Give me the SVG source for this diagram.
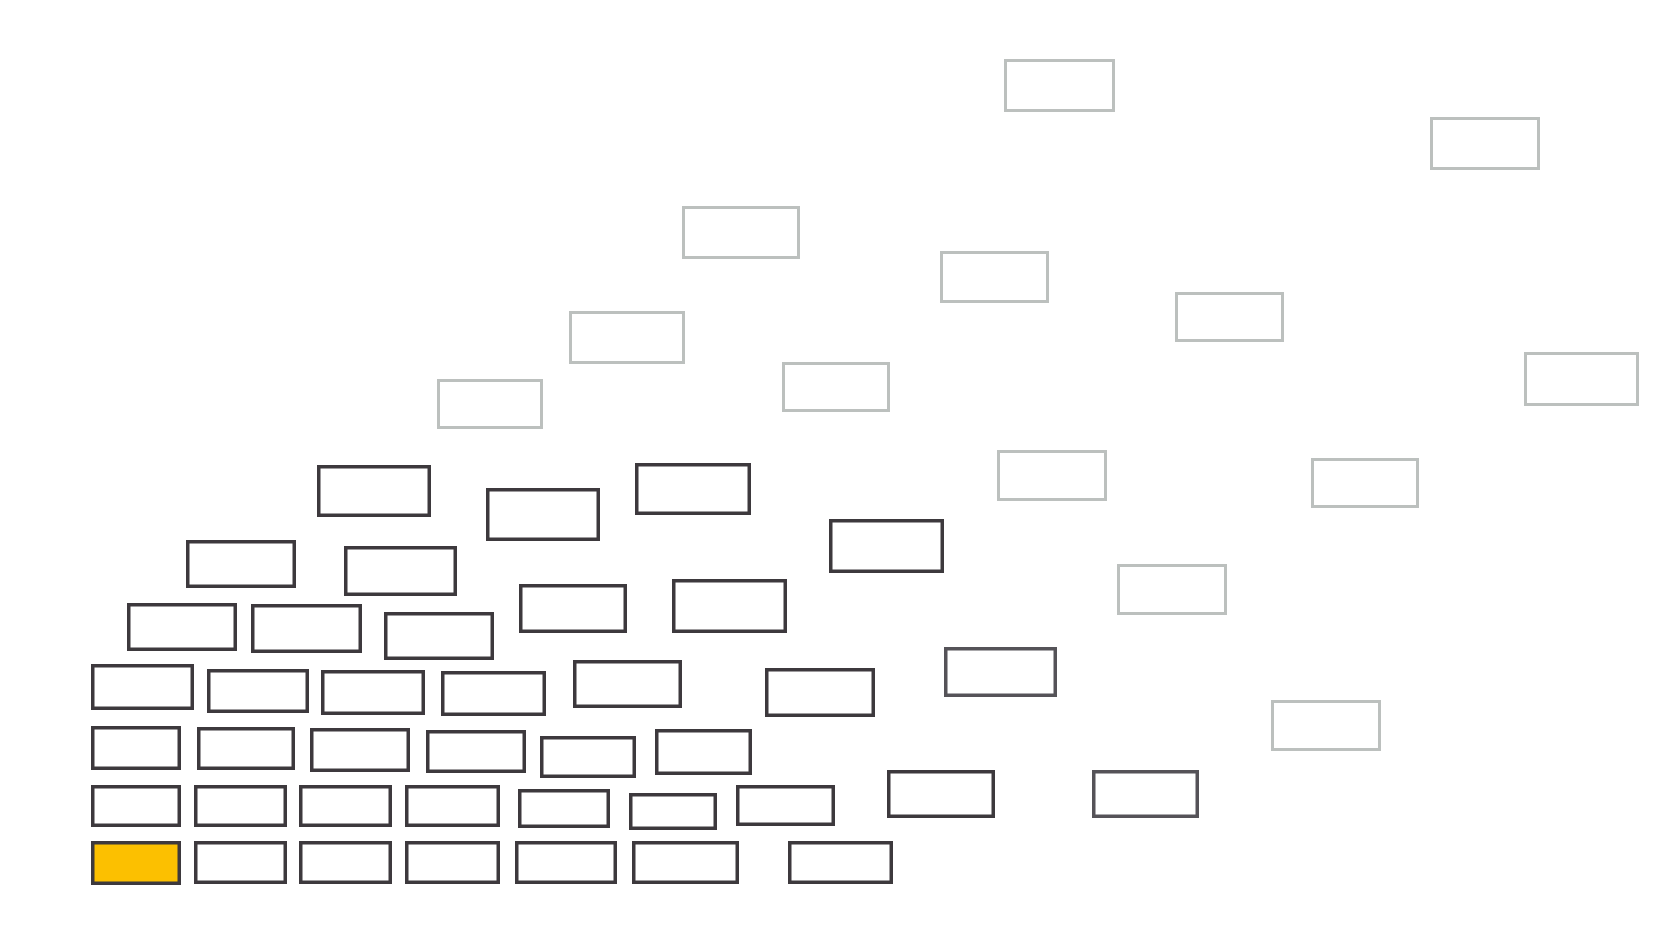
<svg xmlns="http://www.w3.org/2000/svg" width="1672" height="941" viewBox="0 0 1672 941">
<style>
.d{fill:#ffffff;stroke:#3d393d;stroke-width:3.5}
.m{fill:#ffffff;stroke:#555358;stroke-width:3.5}
.y{fill:#fcc000;stroke:#3d393d;stroke-width:3.5}
.g{fill:#ffffff;stroke:#bcc0be;stroke-width:3}
</style>
<rect width="1672" height="941" fill="#ffffff"/>
<g id="connectors"/>
<g id="nodes">
<g id="n1"><rect class="d" x="318.75" y="466.75" width="110.5" height="48.5"/></g>
<g id="n2"><rect class="d" x="487.75" y="489.75" width="110.5" height="49.5"/></g>
<g id="n3"><rect class="d" x="636.75" y="464.75" width="112.5" height="48.5"/></g>
<g id="n4"><rect class="d" x="830.75" y="520.75" width="111.5" height="50.5"/></g>
<g id="n5"><rect class="d" x="187.75" y="541.75" width="106.5" height="44.5"/></g>
<g id="n6"><rect class="d" x="345.75" y="547.75" width="109.5" height="46.5"/></g>
<g id="n7"><rect class="d" x="520.75" y="585.75" width="104.5" height="45.5"/></g>
<g id="n8"><rect class="d" x="673.75" y="580.75" width="111.5" height="50.5"/></g>
<g id="n9"><rect class="d" x="128.75" y="604.75" width="106.5" height="44.5"/></g>
<g id="n10"><rect class="d" x="252.75" y="605.75" width="107.5" height="45.5"/></g>
<g id="n11"><rect class="d" x="385.75" y="613.75" width="106.5" height="44.5"/></g>
<g id="n12"><rect class="d" x="92.75" y="665.75" width="99.5" height="42.5"/></g>
<g id="n13"><rect class="d" x="208.75" y="670.75" width="98.5" height="40.5"/></g>
<g id="n14"><rect class="d" x="322.75" y="671.75" width="100.5" height="41.5"/></g>
<g id="n15"><rect class="d" x="442.75" y="672.75" width="101.5" height="41.5"/></g>
<g id="n16"><rect class="d" x="574.75" y="661.75" width="105.5" height="44.5"/></g>
<g id="n17"><rect class="d" x="766.75" y="669.75" width="106.5" height="45.5"/></g>
<g id="n18"><rect class="m" x="945.75" y="648.75" width="109.5" height="46.5"/></g>
<g id="n19"><rect class="d" x="92.75" y="727.75" width="86.5" height="40.5"/></g>
<g id="n20"><rect class="d" x="198.75" y="728.75" width="94.5" height="39.5"/></g>
<g id="n21"><rect class="d" x="311.75" y="729.75" width="96.5" height="40.5"/></g>
<g id="n22"><rect class="d" x="427.75" y="731.75" width="96.5" height="39.5"/></g>
<g id="n23"><rect class="d" x="541.75" y="737.75" width="92.5" height="38.5"/></g>
<g id="n24"><rect class="d" x="656.75" y="730.75" width="93.5" height="42.5"/></g>
<g id="n25"><rect class="d" x="92.75" y="786.75" width="86.5" height="38.5"/></g>
<g id="n26"><rect class="d" x="195.75" y="786.75" width="89.5" height="38.5"/></g>
<g id="n27"><rect class="d" x="300.75" y="786.75" width="89.5" height="38.5"/></g>
<g id="n28"><rect class="d" x="406.75" y="786.75" width="91.5" height="38.5"/></g>
<g id="n29"><rect class="d" x="519.75" y="790.75" width="88.5" height="35.5"/></g>
<g id="n30"><rect class="d" x="630.75" y="794.75" width="84.5" height="33.5"/></g>
<g id="n31"><rect class="d" x="737.75" y="786.75" width="95.5" height="37.5"/></g>
<g id="n32"><rect class="d" x="888.75" y="771.75" width="104.5" height="44.5"/></g>
<g id="n33"><rect class="m" x="1093.75" y="771.75" width="103.5" height="44.5"/></g>
<g id="n34"><rect class="y" x="92.75" y="842.75" width="86.5" height="40.5"/></g>
<g id="n35"><rect class="d" x="195.75" y="842.75" width="89.5" height="39.5"/></g>
<g id="n36"><rect class="d" x="300.75" y="842.75" width="89.5" height="39.5"/></g>
<g id="n37"><rect class="d" x="406.75" y="842.75" width="91.5" height="39.5"/></g>
<g id="n38"><rect class="d" x="516.75" y="842.75" width="98.5" height="39.5"/></g>
<g id="n39"><rect class="d" x="633.75" y="842.75" width="103.5" height="39.5"/></g>
<g id="n40"><rect class="d" x="789.75" y="842.75" width="101.5" height="39.5"/></g>
<g id="n41"><rect class="g" x="1005.5" y="60.5" width="108" height="50"/></g>
<g id="n42"><rect class="g" x="1431.5" y="118.5" width="107" height="50"/></g>
<g id="n43"><rect class="g" x="683.5" y="207.5" width="115" height="50"/></g>
<g id="n44"><rect class="g" x="941.5" y="252.5" width="106" height="49"/></g>
<g id="n45"><rect class="g" x="1176.5" y="293.5" width="106" height="47"/></g>
<g id="n46"><rect class="g" x="570.5" y="312.5" width="113" height="50"/></g>
<g id="n47"><rect class="g" x="438.5" y="380.5" width="103" height="47"/></g>
<g id="n48"><rect class="g" x="783.5" y="363.5" width="105" height="47"/></g>
<g id="n49"><rect class="g" x="1525.5" y="353.5" width="112" height="51"/></g>
<g id="n50"><rect class="g" x="998.5" y="451.5" width="107" height="48"/></g>
<g id="n51"><rect class="g" x="1312.5" y="459.5" width="105" height="47"/></g>
<g id="n52"><rect class="g" x="1118.5" y="565.5" width="107" height="48"/></g>
<g id="n53"><rect class="g" x="1272.5" y="701.5" width="107" height="48"/></g>
</g>
</svg>
